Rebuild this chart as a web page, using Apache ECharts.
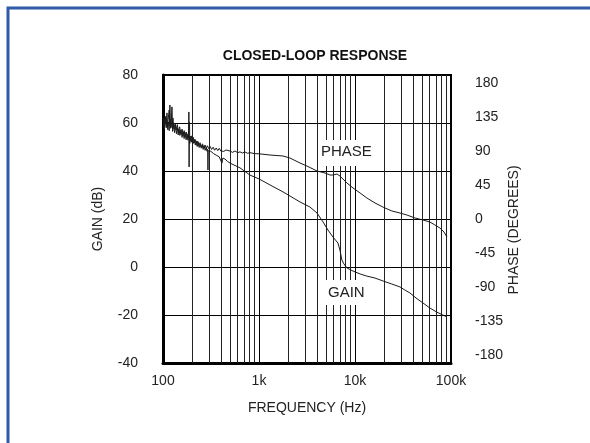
<!DOCTYPE html>
<html>
<head>
<meta charset="utf-8">
<script src="https://cdn.jsdelivr.net/npm/echarts@6/dist/echarts.min.js"></script>
<style>
  html, body { margin: 0; padding: 0; background: #fff; }
  #chart { width: 590px; height: 443px; }
</style>
</head>
<body>
<div id="chart"></div>
<script>
// Closed-loop gain (dB) and phase (degrees) versus frequency (Hz)
const gainFreq = [100, 103, 105, 108, 110, 112, 114, 116, 118, 120, 122, 124, 126, 129, 132, 135, 138, 141, 144, 147,
                  150, 154, 158, 162, 166, 170, 174, 178, 182, 185, 186, 187, 188, 191, 195, 199, 203, 207, 212, 217,
                  222, 227, 232, 238, 244, 250, 256, 262, 268, 275, 282, 288, 292, 294, 296, 305, 315, 325, 335, 345,
                  358, 370, 385, 400, 411, 420, 442, 470, 499, 634, 805, 1000, 1300, 1778, 2675, 3390, 4020, 4640, 5230, 5890,
                  6640, 6970, 7300, 7660, 8250, 9540, 11300, 13300, 16150, 19500, 24200, 29400, 33100, 37300, 43200, 51100,
                  60300, 71200, 82200, 90800];
const gainDb   = [61.3, 57.5, 62.0, 58.0, 64.2, 57.2, 60.5, 56.8, 67.5, 57.8, 61.0, 66.7, 56.5, 59.8, 56.0, 59.0, 55.5, 58.0, 55.0, 57.5,
                  54.8, 57.0, 54.0, 56.2, 53.5, 56.0, 53.0, 55.5, 52.8, 55.0, 64.6, 41.7, 54.5, 52.5, 54.5, 52.0, 54.0, 51.5, 53.2, 50.8,
                  52.5, 50.2, 52.0, 49.8, 51.3, 49.5, 50.8, 49.0, 50.3, 48.6, 49.8, 48.2, 49.2, 40.4, 48.5, 49.3, 48.2, 48.8, 47.3, 47.8,
                  46.6, 46.9, 45.9, 46.0, 43.3, 45.4, 45.0, 44.0, 43.3, 41.3, 38.3, 36.7, 34.2, 31.3, 27.1, 25.0, 22.5, 18.8, 15.4, 12.5,
                  10.0, 7.1, 2.9, 1.3, -0.4, -1.7, -2.9, -3.8, -4.6, -5.8, -7.1, -8.3, -9.6, -10.8, -12.9, -15.0,
                  -17.1, -18.8, -20.0, -20.8];

const phaseFreq = [100, 104, 107, 110, 113, 116, 118, 121, 124, 127, 130, 134, 137, 141, 145, 149, 153, 158, 162, 166,
                   170, 175, 180, 184, 189, 190, 193, 197, 202, 207, 212, 218, 224, 230, 236, 243, 250, 258, 266, 274,
                   282, 290, 300, 310, 321, 333, 345, 358, 372, 386, 400, 415, 430, 453, 475, 499, 530, 562, 600, 634,
                   670, 714, 760, 805, 900, 1000, 1300, 1778, 2100, 2675, 3160, 4020, 4870, 5500, 5890, 6490, 6970, 8250, 9540, 11300,
                   13300, 16150, 19500, 24200, 29400, 34700, 42200, 51100, 60300, 68000, 76600, 84500, 90800];
const phaseDeg  = [133.7, 125.0, 136.0, 122.0, 131.0, 144.3, 124.0, 132.0, 121.0, 133.7, 119.0, 127.0, 117.8, 125.0, 115.0, 122.0, 113.0, 119.0, 111.0, 117.0,
                   109.5, 115.0, 107.0, 112.0, 128.4, 100.0, 106.5, 110.0, 103.0, 108.0, 100.5, 105.0, 98.5, 103.0, 97.0, 101.0, 95.5, 99.5, 94.5, 98.0,
                   93.5, 97.0, 93.0, 96.0, 92.0, 95.0, 91.0, 94.0, 90.5, 93.5, 90.0, 92.5, 89.5, 91.3, 88.7, 90.0, 88.2, 90.0, 87.8, 88.9,
                   87.3, 88.7, 87.0, 87.8, 86.5, 86.3, 84.7, 83.4, 80.7, 74.1, 70.1, 63.5, 60.9, 58.2, 58.2, 59.6, 56.9, 47.6, 41.0, 34.4,
                   27.8, 21.2, 15.9, 10.6, 7.9, 5.3, 1.3, -1.3, -4.0, -7.9, -11.9, -17.2, -23.8];

// Frequencies of the minor (non-decade) vertical grid lines
const minorGridFreq = [200, 300, 400, 500, 600, 700, 800, 900,
                       2000, 3000, 4000, 5000, 6000, 7000, 8000, 9000,
                       20000, 30000, 40000, 50000, 60000, 70000, 80000, 90000];

const freqLabels = { 100: '100', 1000: '1k', 10000: '10k', 100000: '100k' };

const FONT = '"Liberation Sans Narrow", "Arial Narrow", "Liberation Sans", sans-serif';
const TXT = '#222';

const pairs = (xs, ys) => xs.map((x, i) => [x, ys[i]]);

const chart = echarts.init(document.getElementById('chart'), null, { renderer: 'canvas' });

chart.setOption({
  animation: false,
  backgroundColor: '#fff',
  textStyle: { fontFamily: FONT, color: TXT },
  title: {
    text: 'CLOSED-LOOP RESPONSE',
    left: 310, top: 44, textAlign: 'center',
    textStyle: { fontFamily: FONT, fontWeight: 'bold', fontSize: 14, color: '#111' }
  },
  grid: [
    { left: 163, top: 75, width: 288, height: 288, show: true, borderColor: '#000', borderWidth: 2 },
    { left: 163, top: 83, width: 288, height: 272, show: false }
  ],
  xAxis: [
    {
      type: 'log', logBase: 10, min: 100, max: 100000, gridIndex: 0,
      name: 'FREQUENCY (Hz)', nameLocation: 'middle', nameGap: 38,
      nameTextStyle: { fontFamily: FONT, fontSize: 14, color: TXT },
      axisLine: { show: true, onZero: false, lineStyle: { color: '#000', width: 3 } },
      axisTick: { show: false },
      axisLabel: { fontFamily: FONT, fontSize: 14, color: TXT, margin: 11,
                   formatter: v => freqLabels[Math.round(v)] || '' },
      splitLine: { show: true, lineStyle: { color: '#000', width: 1 } },
      minorTick: { show: false }, minorSplitLine: { show: false }
    },
    {
      type: 'log', logBase: 10, min: 100, max: 100000, gridIndex: 1, show: false
    }
  ],
  yAxis: [
    {
      type: 'value', min: -40, max: 80, interval: 20, gridIndex: 0, position: 'left',
      name: 'GAIN (dB)', nameLocation: 'middle', nameGap: 58, nameRotate: 90,
      nameTextStyle: { fontFamily: FONT, fontSize: 14, color: TXT },
      axisLine: { show: true, onZero: false, lineStyle: { color: '#000', width: 3 } },
      axisTick: { show: false },
      axisLabel: { fontFamily: FONT, fontSize: 14, color: TXT, margin: 25 },
      splitLine: { show: true, lineStyle: { color: '#000', width: 1 } }
    },
    {
      type: 'value', min: -180, max: 180, interval: 45, gridIndex: 1, position: 'right',
      name: 'PHASE (DEGREES)', nameLocation: 'middle', nameGap: 56, nameRotate: 90,
      nameTextStyle: { fontFamily: FONT, fontSize: 14, color: TXT, padding: [0, 22, 0, 0] },
      axisLine: { show: false }, axisTick: { show: false },
      axisLabel: { fontFamily: FONT, fontSize: 14, color: TXT, margin: 24 },
      splitLine: { show: false }
    }
  ],
  series: [
    {
      name: 'GAIN', type: 'line', xAxisIndex: 0, yAxisIndex: 0,
      data: pairs(gainFreq, gainDb),
      showSymbol: false, symbol: 'none', z: 5,
      lineStyle: { color: '#1a1a1a', width: 1 },
      markLine: {
        silent: true, symbol: 'none', z: 1,
        label: { show: false },
        lineStyle: { color: '#222', width: 1, type: 'solid' },
        data: minorGridFreq.map(f => ({ xAxis: f }))
      }
    },
    {
      name: 'PHASE', type: 'line', xAxisIndex: 1, yAxisIndex: 1,
      data: pairs(phaseFreq, phaseDeg),
      showSymbol: false, symbol: 'none', z: 5,
      lineStyle: { color: '#1a1a1a', width: 1 }
    }
  ],
  graphic: [
    // outer blue frame
    { type: 'rect', shape: { x: 8, y: 8, width: 700, height: 600 },
      style: { fill: 'none', stroke: '#2f5ba8', lineWidth: 3 }, z: 100 },
    // curve annotations on white patches
    { type: 'rect', shape: { x: 318, y: 140, width: 46, height: 26 },
      style: { fill: '#fff' }, z: 50 },
    { type: 'text', left: 321, top: 144,
      style: { text: 'PHASE', fontFamily: FONT, fontSize: 15, fill: TXT }, z: 51 },
    { type: 'rect', shape: { x: 325, y: 280, width: 36, height: 25 },
      style: { fill: '#fff' }, z: 50 },
    { type: 'text', left: 328, top: 285,
      style: { text: 'GAIN', fontFamily: FONT, fontSize: 15, fill: TXT }, z: 51 }
  ]
});
</script>
</body>
</html>
